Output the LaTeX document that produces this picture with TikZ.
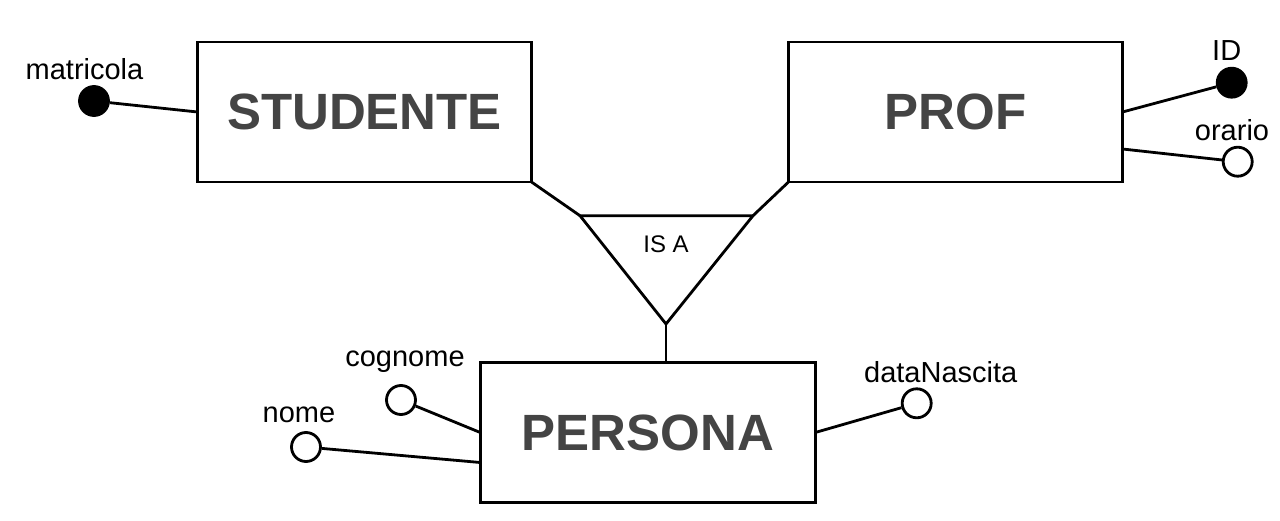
\documentclass[tikz,border=0pt]{standalone}
\usepackage{fontspec}
\setmainfont{Liberation Sans}
\usepackage{tikz}
\usetikzlibrary{positioning}
\definecolor{entitygray}{HTML}{444444}

\begin{document}
\begin{tikzpicture}[x=1pt,y=1pt,line width=2.8pt,
  entity node/.style={draw,minimum width=334pt,minimum height=140pt,inner sep=0pt,
    outer sep=0pt,text=entitygray,font=\fontsize{51}{60}\selectfont\bfseries},
  attr node/.style={draw,circle,fill=white,minimum size=29pt,inner sep=0pt},
  key node/.style={attr node,fill=black},
  name node/.style={font=\fontsize{29}{34}\selectfont,inner sep=0pt}]

  \useasboundingbox (0,0) rectangle (1280,520);

  % entities
  \node[entity node] (studente) at (364.5,408) {STUDENTE};
  \node[entity node] (prof) [right=257pt of studente] {PROF};
  \node[entity node,minimum width=335pt] (persona) [below=180.5pt of studente,xshift=283.25pt] {PERSONA};

  % generalisation
  \coordinate (isaL) at (580,304.3);
  \coordinate (isaR) at (753,304.3);
  \coordinate (isaB) at (666,196);
  \draw (isaL) -- (isaR) -- (isaB) -- cycle;
  \node[font=\fontsize{24}{28}\selectfont] (isa) at (666,276) {IS A};

  % attributes
  \node[key node] (matricola) at (94,419) {};
  \node[key node] (id) at (1231.7,437.3) {};
  \node[attr node] (orario) at (1237.7,358.3) {};
  \node[attr node] (cognome) at (401,120) {};
  \node[attr node] (nome) at (306,73) {};
  \node[attr node] (datanascita) at (916.7,116.7) {};

  \node[name node] (matricolaL) [above=6pt of matricola,xshift=-9.5pt,anchor=base] {matricola};
  \node[name node] (idL) [above=6.5pt of id,xshift=-5pt,anchor=base] {ID};
  \node[name node] (orarioL) [above=5.5pt of orario,xshift=-5.7pt,anchor=base] {orario};
  \node[name node] (cognomeL) [above=18pt of cognome,xshift=4pt,anchor=base] {cognome};
  \node[name node] (nomeL) [above=8.5pt of nome,xshift=-7pt,anchor=base] {nome};
  \node[name node] (datanascitaL) [above=4.5pt of datanascita,xshift=24pt,anchor=base] {dataNascita};

  \path
    (matricola) edge (studente.west)
    (id) edge (prof.east)
    (orario) edge ([yshift=-37pt]prof.east)
    (cognome) edge (persona.west)
    (nome) edge ([yshift=-30pt]persona.west)
    (datanascita) edge (persona.east)
    (studente.south east) edge (isaL)
    (prof.south west) edge (isaR)
    (isaB) edge (isaB |- persona.north);
\end{tikzpicture}
\end{document}
